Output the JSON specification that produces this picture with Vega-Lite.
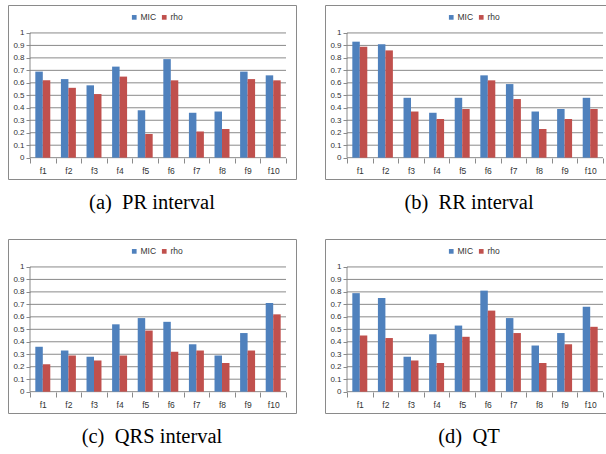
{
  "$schema": "https://vega.github.io/schema/vega-lite/v6.json",
  "padding": {"left": 7, "top": 4, "right": 0, "bottom": 0},
  "background": "white",
  "datasets": {
    "grid": [{"v": 0}, {"v": 0.1}, {"v": 0.2}, {"v": 0.3}, {"v": 0.4}, {"v": 0.5}, {"v": 0.6}, {"v": 0.7}, {"v": 0.8}, {"v": 0.9}, {"v": 1}],
    "pr": [
      {"feature": "f1", "measure": "MIC", "value": 0.69}, {"feature": "f1", "measure": "rho", "value": 0.62},
      {"feature": "f2", "measure": "MIC", "value": 0.63}, {"feature": "f2", "measure": "rho", "value": 0.56},
      {"feature": "f3", "measure": "MIC", "value": 0.58}, {"feature": "f3", "measure": "rho", "value": 0.51},
      {"feature": "f4", "measure": "MIC", "value": 0.73}, {"feature": "f4", "measure": "rho", "value": 0.65},
      {"feature": "f5", "measure": "MIC", "value": 0.38}, {"feature": "f5", "measure": "rho", "value": 0.19},
      {"feature": "f6", "measure": "MIC", "value": 0.79}, {"feature": "f6", "measure": "rho", "value": 0.62},
      {"feature": "f7", "measure": "MIC", "value": 0.36}, {"feature": "f7", "measure": "rho", "value": 0.21},
      {"feature": "f8", "measure": "MIC", "value": 0.37}, {"feature": "f8", "measure": "rho", "value": 0.23},
      {"feature": "f9", "measure": "MIC", "value": 0.69}, {"feature": "f9", "measure": "rho", "value": 0.63},
      {"feature": "f10", "measure": "MIC", "value": 0.66}, {"feature": "f10", "measure": "rho", "value": 0.62}
    ],
    "rr": [
      {"feature": "f1", "measure": "MIC", "value": 0.93}, {"feature": "f1", "measure": "rho", "value": 0.89},
      {"feature": "f2", "measure": "MIC", "value": 0.91}, {"feature": "f2", "measure": "rho", "value": 0.86},
      {"feature": "f3", "measure": "MIC", "value": 0.48}, {"feature": "f3", "measure": "rho", "value": 0.37},
      {"feature": "f4", "measure": "MIC", "value": 0.36}, {"feature": "f4", "measure": "rho", "value": 0.31},
      {"feature": "f5", "measure": "MIC", "value": 0.48}, {"feature": "f5", "measure": "rho", "value": 0.39},
      {"feature": "f6", "measure": "MIC", "value": 0.66}, {"feature": "f6", "measure": "rho", "value": 0.62},
      {"feature": "f7", "measure": "MIC", "value": 0.59}, {"feature": "f7", "measure": "rho", "value": 0.47},
      {"feature": "f8", "measure": "MIC", "value": 0.37}, {"feature": "f8", "measure": "rho", "value": 0.23},
      {"feature": "f9", "measure": "MIC", "value": 0.39}, {"feature": "f9", "measure": "rho", "value": 0.31},
      {"feature": "f10", "measure": "MIC", "value": 0.48}, {"feature": "f10", "measure": "rho", "value": 0.39}
    ],
    "qrs": [
      {"feature": "f1", "measure": "MIC", "value": 0.36}, {"feature": "f1", "measure": "rho", "value": 0.22},
      {"feature": "f2", "measure": "MIC", "value": 0.33}, {"feature": "f2", "measure": "rho", "value": 0.29},
      {"feature": "f3", "measure": "MIC", "value": 0.28}, {"feature": "f3", "measure": "rho", "value": 0.25},
      {"feature": "f4", "measure": "MIC", "value": 0.54}, {"feature": "f4", "measure": "rho", "value": 0.29},
      {"feature": "f5", "measure": "MIC", "value": 0.59}, {"feature": "f5", "measure": "rho", "value": 0.49},
      {"feature": "f6", "measure": "MIC", "value": 0.56}, {"feature": "f6", "measure": "rho", "value": 0.32},
      {"feature": "f7", "measure": "MIC", "value": 0.38}, {"feature": "f7", "measure": "rho", "value": 0.33},
      {"feature": "f8", "measure": "MIC", "value": 0.29}, {"feature": "f8", "measure": "rho", "value": 0.23},
      {"feature": "f9", "measure": "MIC", "value": 0.47}, {"feature": "f9", "measure": "rho", "value": 0.33},
      {"feature": "f10", "measure": "MIC", "value": 0.71}, {"feature": "f10", "measure": "rho", "value": 0.62}
    ],
    "qt": [
      {"feature": "f1", "measure": "MIC", "value": 0.79}, {"feature": "f1", "measure": "rho", "value": 0.45},
      {"feature": "f2", "measure": "MIC", "value": 0.75}, {"feature": "f2", "measure": "rho", "value": 0.43},
      {"feature": "f3", "measure": "MIC", "value": 0.28}, {"feature": "f3", "measure": "rho", "value": 0.25},
      {"feature": "f4", "measure": "MIC", "value": 0.46}, {"feature": "f4", "measure": "rho", "value": 0.23},
      {"feature": "f5", "measure": "MIC", "value": 0.53}, {"feature": "f5", "measure": "rho", "value": 0.44},
      {"feature": "f6", "measure": "MIC", "value": 0.81}, {"feature": "f6", "measure": "rho", "value": 0.65},
      {"feature": "f7", "measure": "MIC", "value": 0.59}, {"feature": "f7", "measure": "rho", "value": 0.47},
      {"feature": "f8", "measure": "MIC", "value": 0.37}, {"feature": "f8", "measure": "rho", "value": 0.23},
      {"feature": "f9", "measure": "MIC", "value": 0.47}, {"feature": "f9", "measure": "rho", "value": 0.38},
      {"feature": "f10", "measure": "MIC", "value": 0.68}, {"feature": "f10", "measure": "rho", "value": 0.52}
    ]
  },
  "columns": 2,
  "spacing": {"row": 24, "column": 27},
  "resolve": {"legend": {"color": "independent"}},
  "concat": [
    {
      "width": 288, "height": 174,
      "title": "(a)\u2002PR interval",
      "layer": [
        {"data": {"name": "grid"}, "mark": {"type": "rule", "color": "#8a8a8a", "strokeWidth": 1},
         "encoding": {
           "y": {"field": "v", "type": "quantitative", "axis": {"offset": -22, "values": [0, 0.1, 0.2, 0.3, 0.4, 0.5, 0.6, 0.7, 0.8, 0.9, 1], "labelOverlap": false, "tickCount": 11}, "scale": {"domain": [-0.171, 1.224], "nice": false, "zero": false}},
           "x": {"datum": "f1", "type": "nominal", "bandPosition": 0, "scale": {"domain": ["f1","f2","f3","f4","f5","f6","f7","f8","f9","f10"], "paddingInner": 0, "paddingOuter": 0.625, "align": 0.6875}},
           "x2": {"datum": "f10", "bandPosition": 1}
         }},
        {"data": {"name": "grid"}, "mark": {"type": "rule", "color": "#8a8a8a", "strokeWidth": 1},
         "transform": [{"filter": "datum.v == 0"}],
         "encoding": {
           "y": {"datum": 0, "type": "quantitative"},
           "y2": {"datum": 1},
           "x": {"datum": "f1", "type": "nominal", "bandPosition": 0}
         }},
        {"data": {"name": "pr"}, "mark": {"type": "bar"},
         "encoding": {
           "x": {"field": "feature", "type": "nominal", "axis": {"offset": -21}},
           "xOffset": {"field": "measure", "type": "nominal", "scale": {"paddingInner": 0, "paddingOuter": 0.71}},
           "y": {"field": "value", "type": "quantitative"},
           "y2": {"datum": 0},
           "color": {"field": "measure", "type": "nominal", "scale": {"domain": ["MIC", "rho"], "range": ["#4f81bd", "#c0504d"]}, "legend": {"legendX": 122, "legendY": 8}}
         }}
      ]
    },
    {
      "width": 288, "height": 174,
      "title": "(b)\u2002RR interval",
      "layer": [
        {"data": {"name": "grid"}, "mark": {"type": "rule", "color": "#8a8a8a", "strokeWidth": 1},
         "encoding": {
           "y": {"field": "v", "type": "quantitative", "axis": {"offset": -22, "values": [0, 0.1, 0.2, 0.3, 0.4, 0.5, 0.6, 0.7, 0.8, 0.9, 1], "labelOverlap": false, "tickCount": 11}, "scale": {"domain": [-0.171, 1.224], "nice": false, "zero": false}},
           "x": {"datum": "f1", "type": "nominal", "bandPosition": 0, "scale": {"domain": ["f1","f2","f3","f4","f5","f6","f7","f8","f9","f10"], "paddingInner": 0, "paddingOuter": 0.625, "align": 0.6875}},
           "x2": {"datum": "f10", "bandPosition": 1}
         }},
        {"data": {"name": "grid"}, "mark": {"type": "rule", "color": "#8a8a8a", "strokeWidth": 1},
         "transform": [{"filter": "datum.v == 0"}],
         "encoding": {
           "y": {"datum": 0, "type": "quantitative"},
           "y2": {"datum": 1},
           "x": {"datum": "f1", "type": "nominal", "bandPosition": 0}
         }},
        {"data": {"name": "rr"}, "mark": {"type": "bar"},
         "encoding": {
           "x": {"field": "feature", "type": "nominal", "axis": {"offset": -21}},
           "xOffset": {"field": "measure", "type": "nominal", "scale": {"paddingInner": 0, "paddingOuter": 0.71}},
           "y": {"field": "value", "type": "quantitative"},
           "y2": {"datum": 0},
           "color": {"field": "measure", "type": "nominal", "scale": {"domain": ["MIC", "rho"], "range": ["#4f81bd", "#c0504d"]}, "legend": {"legendX": 122, "legendY": 8}}
         }}
      ]
    },
    {
      "width": 288, "height": 174,
      "title": "(c)\u2002QRS interval",
      "layer": [
        {"data": {"name": "grid"}, "mark": {"type": "rule", "color": "#8a8a8a", "strokeWidth": 1},
         "encoding": {
           "y": {"field": "v", "type": "quantitative", "axis": {"offset": -22, "values": [0, 0.1, 0.2, 0.3, 0.4, 0.5, 0.6, 0.7, 0.8, 0.9, 1], "labelOverlap": false, "tickCount": 11}, "scale": {"domain": [-0.171, 1.224], "nice": false, "zero": false}},
           "x": {"datum": "f1", "type": "nominal", "bandPosition": 0, "scale": {"domain": ["f1","f2","f3","f4","f5","f6","f7","f8","f9","f10"], "paddingInner": 0, "paddingOuter": 0.625, "align": 0.6875}},
           "x2": {"datum": "f10", "bandPosition": 1}
         }},
        {"data": {"name": "grid"}, "mark": {"type": "rule", "color": "#8a8a8a", "strokeWidth": 1},
         "transform": [{"filter": "datum.v == 0"}],
         "encoding": {
           "y": {"datum": 0, "type": "quantitative"},
           "y2": {"datum": 1},
           "x": {"datum": "f1", "type": "nominal", "bandPosition": 0}
         }},
        {"data": {"name": "qrs"}, "mark": {"type": "bar"},
         "encoding": {
           "x": {"field": "feature", "type": "nominal", "axis": {"offset": -21}},
           "xOffset": {"field": "measure", "type": "nominal", "scale": {"paddingInner": 0, "paddingOuter": 0.71}},
           "y": {"field": "value", "type": "quantitative"},
           "y2": {"datum": 0},
           "color": {"field": "measure", "type": "nominal", "scale": {"domain": ["MIC", "rho"], "range": ["#4f81bd", "#c0504d"]}, "legend": {"legendX": 122, "legendY": 8}}
         }}
      ]
    },
    {
      "width": 288, "height": 174,
      "title": "(d)\u2002QT",
      "layer": [
        {"data": {"name": "grid"}, "mark": {"type": "rule", "color": "#8a8a8a", "strokeWidth": 1},
         "encoding": {
           "y": {"field": "v", "type": "quantitative", "axis": {"offset": -22, "values": [0, 0.1, 0.2, 0.3, 0.4, 0.5, 0.6, 0.7, 0.8, 0.9, 1], "labelOverlap": false, "tickCount": 11}, "scale": {"domain": [-0.171, 1.224], "nice": false, "zero": false}},
           "x": {"datum": "f1", "type": "nominal", "bandPosition": 0, "scale": {"domain": ["f1","f2","f3","f4","f5","f6","f7","f8","f9","f10"], "paddingInner": 0, "paddingOuter": 0.625, "align": 0.6875}},
           "x2": {"datum": "f10", "bandPosition": 1}
         }},
        {"data": {"name": "grid"}, "mark": {"type": "rule", "color": "#8a8a8a", "strokeWidth": 1},
         "transform": [{"filter": "datum.v == 0"}],
         "encoding": {
           "y": {"datum": 0, "type": "quantitative"},
           "y2": {"datum": 1},
           "x": {"datum": "f1", "type": "nominal", "bandPosition": 0}
         }},
        {"data": {"name": "qt"}, "mark": {"type": "bar"},
         "encoding": {
           "x": {"field": "feature", "type": "nominal", "axis": {"offset": -21}},
           "xOffset": {"field": "measure", "type": "nominal", "scale": {"paddingInner": 0, "paddingOuter": 0.71}},
           "y": {"field": "value", "type": "quantitative"},
           "y2": {"datum": 0},
           "color": {"field": "measure", "type": "nominal", "scale": {"domain": ["MIC", "rho"], "range": ["#4f81bd", "#c0504d"]}, "legend": {"legendX": 122, "legendY": 8}}
         }}
      ]
    }
  ],
  "config": {
    "view": {"stroke": "#8a8a8a", "strokeWidth": 1},
    "title": {"orient": "bottom", "anchor": "middle", "font": "Liberation Serif", "fontSize": 20.5, "fontWeight": "normal", "color": "#000000", "offset": 14},
    "axisX": {"title": null, "labelAngle": 0, "grid": false, "domain": false, "tickBand": "extent", "tickSize": 5, "tickColor": "#8a8a8a", "labelPadding": 3, "labelFont": "Liberation Sans", "labelFontSize": 8.5, "labelColor": "#333333"},
    "axisY": {"title": null, "grid": false, "domain": false, "format": "~g", "tickSize": 4, "tickColor": "#8a8a8a", "labelPadding": 2, "labelFont": "Liberation Sans", "labelFontSize": 8, "labelColor": "#333333"},
    "legend": {"orient": "none", "direction": "horizontal", "title": null, "symbolType": "square", "symbolSize": 22, "symbolStrokeWidth": 0, "labelFont": "Liberation Sans", "labelFontSize": 8.5, "labelColor": "#333333", "labelOffset": 2, "columnPadding": 3}
  }
}
